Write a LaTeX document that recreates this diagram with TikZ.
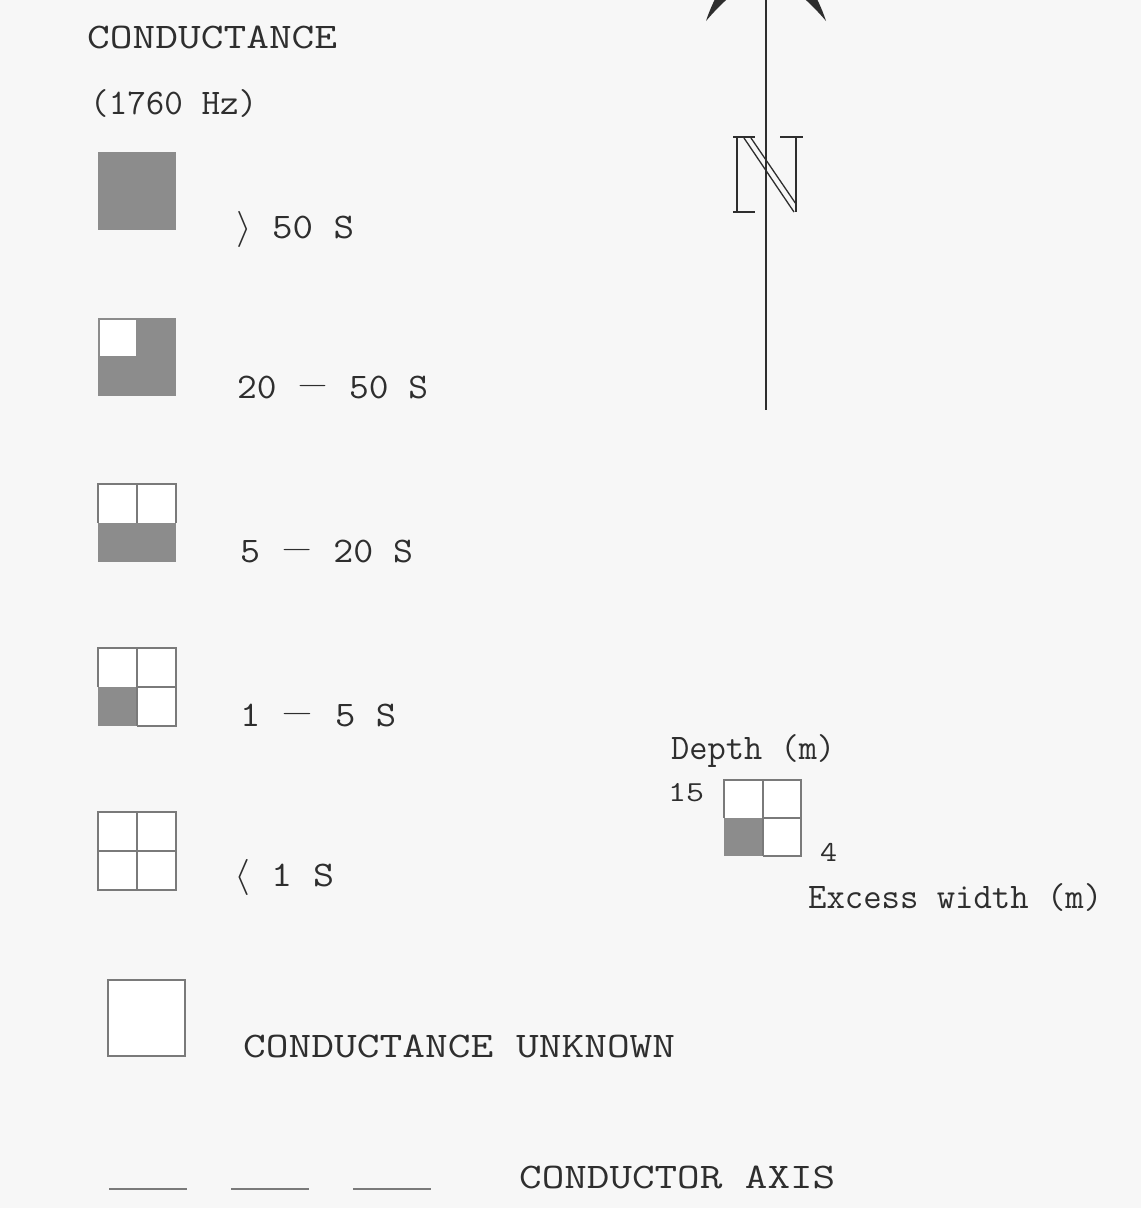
\documentclass[tikz,border=0pt]{standalone}
\usepackage{graphicx}
\definecolor{bg}{HTML}{F7F7F7}
\definecolor{ink}{HTML}{2E2E2E}
\definecolor{shade}{HTML}{8C8C8C}
\definecolor{edge}{HTML}{7A7A7A}
\newcommand{\fitw}[2]{\resizebox{#1}{\height}{#2}}
\newcommand{\rang}{\scalebox{1.45}{$\rangle$}}
\newcommand{\lang}{\scalebox{1.45}{$\langle$}}
\newcommand{\mns}{\raisebox{4.5pt}{\scalebox{1.6}[1.2]{$-$}}}
\begin{document}
\begin{tikzpicture}[x=1pt,y=-1pt,
  lbl/.style={inner sep=0pt,anchor=base west,text=ink,font=\fontsize{36}{36}\selectfont\ttfamily},
  small/.style={inner sep=0pt,anchor=base west,text=ink,font=\fontsize{29}{29}\selectfont\ttfamily},
  cell/.style={draw=edge,line width=2pt},
  shd/.style={fill=shade},
  axis/.style={draw=edge,line width=1.5pt},
  nline/.style={draw=ink,line width=1.3pt}]
\useasboundingbox (0,0) rectangle (1141,1208);
\fill[bg] (0,0) rectangle (1141,1208);

% titles
\node[lbl] (t1) at (87,48) {\fitw{250pt}{CONDUCTANCE}};
\node[lbl] (t2) at (90,114) {\fitw{167pt}{(1760 Hz)}};

% box 1: > 50 S
\fill[shd] (98,152) rectangle (176,230);
\node[lbl] (l1) at (236,238) {\fitw{118pt}{\rang{} 50 S}};

% box 2: 20-50 S
\fill[shd] (98,318) rectangle (176,396);
\fill[white] (100,320) rectangle (136,356);
\node[lbl] (l2) at (237,398) {\fitw{191pt}{20 \mns{} 50 S}};

% box 3: 5-20 S
\fill[white] (98,484) rectangle (176,523);
\fill[shd] (98,523) rectangle (176,562);
\draw[cell] (98,523) -- (98,484) -- (176,484) -- (176,523);
\draw[cell] (137,484) -- (137,523);
\node[lbl] (l3) at (240,562) {\fitw{173pt}{5 \mns{} 20 S}};

% box 4: 1-5 S
\fill[white] (98,648) rectangle (176,726);
\fill[shd] (98,687) rectangle (137,726);
\draw[cell] (98,687) -- (98,648) -- (176,648) -- (176,726) -- (137,726);
\draw[cell] (137,648) -- (137,726) (137,687) -- (176,687);
\node[lbl] (l4) at (240,726) {\fitw{156pt}{1 \mns{} 5 S}};

% box 5: < 1 S
\fill[white] (98,812) rectangle (176,890);
\draw[cell] (98,812) rectangle (176,890);
\draw[cell] (137,812) -- (137,890) (98,851) -- (176,851);
\node[lbl] (l5) at (234,886) {\fitw{100pt}{\lang{} 1 S}};

% box 6: unknown
\fill[white] (108,980) rectangle (185,1056);
\draw[cell] (108,980) rectangle (185,1056);
\node[lbl] (l6) at (243,1057) {\fitw{432pt}{CONDUCTANCE UNKNOWN}};

% conductor axis
\draw[axis] (109,1189) -- (187,1189);
\draw[axis] (231,1189) -- (309,1189);
\draw[axis] (353,1189) -- (431,1189);
\node[lbl] (l7) at (519,1188) {\fitw{316pt}{CONDUCTOR AXIS}};

% depth legend
\node[lbl] (d1) at (671,759) {\fitw{164pt}{Depth (m)}};
\node[small] (d2) at (668,801) {\fitw{36pt}{15}};
\fill[white] (724,780) rectangle (801,856);
\fill[shd] (724,818) rectangle (763,856);
\draw[cell] (724,818) -- (724,780) -- (801,780) -- (801,856) -- (763,856);
\draw[cell] (763,780) -- (763,856) (763,818) -- (801,818);
\node[small] (d3) at (820,861) {\fitw{17pt}{4}};
\node[lbl] (d4) at (808,908) {\fitw{294pt}{Excess width (m)}};

% north arrow
\draw[draw=ink,line width=1.5pt] (766,-80) -- (766,410);
\fill[ink] (706,21) .. controls (716,-10) and (740,-45) .. (766,-75)
  -- (766,-30) .. controls (750,-20) and (728,-5) .. (706,21) -- cycle;
\fill[ink] (826,21) .. controls (816,-10) and (792,-45) .. (766,-75)
  -- (766,-30) .. controls (782,-20) and (804,-5) .. (826,21) -- cycle;
% N
\draw[nline] (737,137) -- (737,212);
\draw[nline] (733,212) -- (755,212);
\draw[nline] (733,137) -- (755,137);
\draw[nline] (780,137) -- (803,137);
\draw[nline] (796,137) -- (796,212);
\draw[nline] (744,138) -- (794,212);
\draw[nline] (751,138) -- (796,204);
\end{tikzpicture}
\end{document}
